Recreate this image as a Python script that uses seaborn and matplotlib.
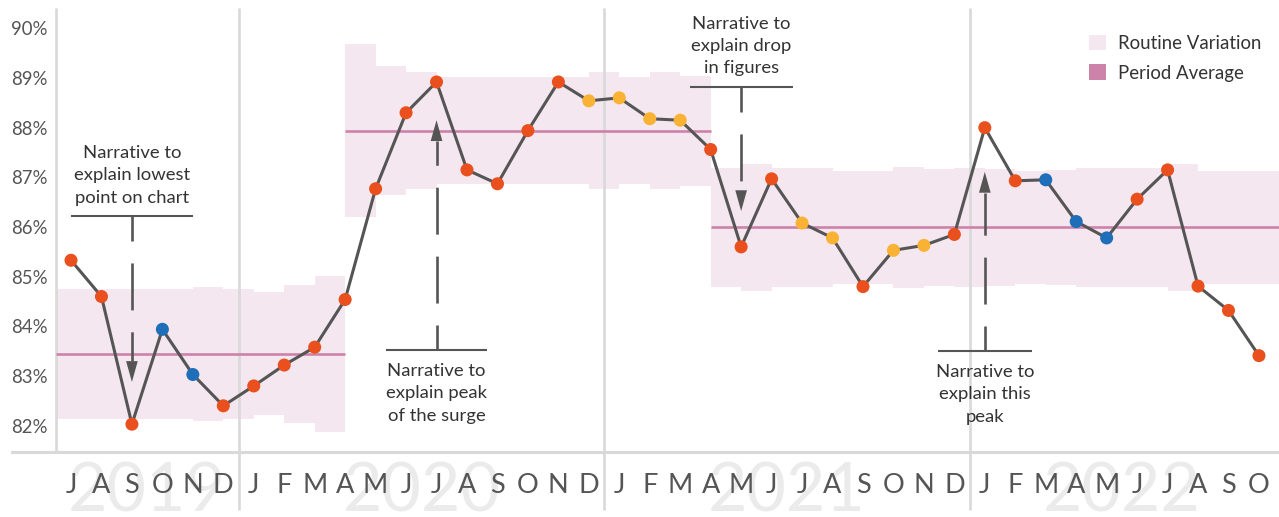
import numpy as np
import pandas as pd
import matplotlib
matplotlib.use("Agg")
import matplotlib.pyplot as plt
from matplotlib.patches import Patch
import seaborn as sns

# ---------------- data ----------------
months = ['J', 'A', 'S', 'O', 'N', 'D',
          'J', 'F', 'M', 'A', 'M', 'J', 'J', 'A', 'S', 'O', 'N', 'D',
          'J', 'F', 'M', 'A', 'M', 'J', 'J', 'A', 'S', 'O', 'N', 'D',
          'J', 'F', 'M', 'A', 'M', 'J', 'J', 'A', 'S', 'O']
years = [2019] * 6 + [2020] * 12 + [2021] * 12 + [2022] * 10

values = [85.33, 84.60, 82.03, 83.94, 83.03, 82.40, 82.80, 83.22, 83.58, 84.54,
          86.77, 88.30, 88.92, 87.15, 86.87, 87.94, 88.92, 88.54, 88.60, 88.18,
          88.15, 87.56, 85.60, 86.97, 86.08, 85.78, 84.80, 85.53, 85.63, 85.85,
          88.00, 86.93, 86.95, 86.11, 85.78, 86.56, 87.15, 84.81, 84.32, 83.41]

status = ['signal', 'signal', 'signal', 'low run', 'low run', 'signal',
          'signal', 'signal', 'signal', 'signal', 'signal', 'signal', 'signal',
          'signal', 'signal', 'signal', 'signal', 'high run',
          'high run', 'high run', 'high run', 'signal', 'signal', 'signal',
          'high run', 'high run', 'signal', 'high run', 'high run', 'signal',
          'signal', 'signal', 'low run', 'low run', 'low run', 'signal',
          'signal', 'signal', 'signal', 'signal']

period = [1] * 10 + [2] * 12 + [3] * 18
period_avg = [83.45, 87.94, 85.99]
band_halfwidth = [1.31, 1.31, 1.31, 1.31, 1.31, 1.35, 1.31, 1.24, 1.39, 1.57,
                  1.74, 1.30, 1.18, 1.08, 1.08, 1.08, 1.08, 1.08, 1.18, 1.08,
                  1.18, 1.11, 1.19, 1.27, 1.19, 1.19, 1.13, 1.13, 1.22, 1.17,
                  1.19, 1.17, 1.13, 1.15, 1.19, 1.19, 1.19, 1.27, 1.13, 1.13]

yticks = [82, 83, 84, 85, 86, 87, 88, 89, 90]

notes = [
    dict(idx=2, lines=["Narrative to", "explain lowest", "point on chart"],
         rule=86.22, tip=82.88, half=2.0, side='above'),
    dict(idx=12, lines=["Narrative to", "explain peak", "of the surge"],
         rule=83.53, tip=88.15, half=1.67, side='below'),
    dict(idx=22, lines=["Narrative to", "explain drop", "in figures"],
         rule=88.82, tip=86.32, half=1.69, side='above'),
    dict(idx=30, lines=["Narrative to", "explain this", "peak"],
         rule=83.51, tip=87.11, half=1.54, side='below'),
]

# ---------------- style ----------------
sns.set_style("white")
plt.rcParams['font.family'] = ['Lato', 'DejaVu Sans']
plt.rcParams['lines.scale_dashes'] = False

red = '#e9501e'
blue = '#1f6eb9'
amber = '#f9b234'
palette = {'signal': red, 'low run': blue, 'high run': amber}
band_color = '#f5e7ef'
avg_color = '#cd82aa'
grey_line = '#555555'
divider = '#d9d9d9'
text_dark = '#333333'
tick_grey = '#555555'

W, H = 1279, 517
fig = plt.figure(figsize=(W / 100, H / 100), dpi=100)
ax_left, ax_right, ax_top, ax_bottom = 12, 1279, 8, 452
ax = fig.add_axes([ax_left / W, (H - ax_bottom) / H,
                   (ax_right - ax_left) / W, (ax_bottom - ax_top) / H])

n = len(values)
df = pd.DataFrame({'idx': np.arange(n), 'value': values, 'status': status,
                   'month': months, 'year': years, 'period': period})

xmin, xmax = -1.937, 39.658
ymin, ymax = 81.470, 90.409
ax.set_xlim(xmin, xmax)
ax.set_ylim(ymin, ymax)
px_per_unit = (ax_bottom - ax_top) / (ymax - ymin)

# routine variation band (step, each month owns the interval ending at it)
avg_per_month = np.array([period_avg[p - 1] for p in period])
hw = np.array(band_halfwidth)
lo = avg_per_month - hw
hi = avg_per_month + hw
x_edges = np.concatenate([[-0.5], df['idx'].values, [xmax]])
lo_e = np.concatenate([[lo[0]], lo, [lo[-1]]])
hi_e = np.concatenate([[hi[0]], hi, [hi[-1]]])
ax.fill_between(x_edges, lo_e, hi_e, step='pre', color=band_color,
                linewidth=0, zorder=1)

# year dividers
year_list = sorted(set(years))
first_idx = [years.index(y) for y in year_list]
below = -(510 - ax_bottom) / (ax_bottom - ax_top)
for k, fi in enumerate(first_idx):
    xpos = fi - 0.5
    y0 = 0 if k == 0 else below
    ax.plot([xpos, xpos], [y0, 1], transform=ax.get_xaxis_transform(),
            color=divider, lw=1.9, zorder=1.5, clip_on=False,
            solid_capstyle='butt')

# period averages
for p_i, avg in enumerate(period_avg, start=1):
    ids = df.loc[df['period'] == p_i, 'idx']
    start = -0.5 if p_i == 1 else ids.min() - 1
    end = xmax if p_i == len(period_avg) else ids.max()
    ax.hlines(avg, start, end, color=avg_color, lw=1.9, zorder=2)

# data line + points
sns.lineplot(data=df, x='idx', y='value', color=grey_line, lw=2.2,
             estimator=None, sort=False, ax=ax, zorder=3)
sns.scatterplot(data=df, x='idx', y='value', hue='status', palette=palette,
                s=88, linewidth=0, legend=False, ax=ax, zorder=4)

# annotations
line_gap = 22.3  # px
for nt in notes:
    i = nt['idx']
    ax.plot([i - nt['half'], i + nt['half']], [nt['rule'], nt['rule']],
            color=grey_line, lw=1.5, zorder=2.6, solid_capstyle='butt')
    sign = 1 if nt['tip'] > nt['rule'] else -1
    head_px = 21
    base = nt['tip'] - sign * head_px / px_per_unit
    ax.plot([i, i], [nt['rule'], base], color=grey_line, lw=1.9,
            linestyle=(15.8, (33.8, 15.8)), dash_capstyle='butt', zorder=2.6)
    ax.annotate('', xy=(i, nt['tip']), xytext=(0, -sign * head_px * 0.72),
                textcoords='offset points',
                arrowprops=dict(arrowstyle='-|>,head_length=1.5,head_width=0.42',
                                color=grey_line, lw=0, shrinkA=0, shrinkB=0,
                                mutation_scale=10), zorder=2.6)
    nl = len(nt['lines'])
    for k, txt in enumerate(nt['lines']):
        if nt['side'] == 'above':
            off_px = 13.5 + (nl - 1 - k) * line_gap
        else:
            off_px = -(26.5 + k * line_gap)
        ax.annotate(txt, xy=(i, nt['rule']), xytext=(0, off_px * 0.72),
                    textcoords='offset points', ha='center', va='baseline',
                    fontsize=13.3, color=text_dark, zorder=5)

# axes styling
for s in ['left', 'top', 'right']:
    ax.spines[s].set_visible(False)
ax.spines['bottom'].set_color(divider)
ax.spines['bottom'].set_linewidth(2.2)
ax.set_xlabel('')
ax.set_ylabel('')
ax.grid(False)

ax.set_yticks(yticks)
ax.set_yticklabels([f'{v}%' for v in yticks])
ax.tick_params(axis='y', length=0, pad=-25.9, labelsize=13.4, labelcolor=tick_grey)

ax.set_xticks(df['idx'].values)
ax.set_xticklabels(months)
ax.tick_params(axis='x', length=0, pad=29.3, labelsize=19.5, labelcolor=tick_grey)
for lbl in ax.get_xticklabels():
    lbl.set_verticalalignment('baseline')

# big year labels behind the month letters
year_base = -(511.7 - ax_bottom) / (ax_bottom - ax_top)
for y in year_list:
    centre = df.loc[df['year'] == y, 'idx'].mean()
    ax.text(centre, year_base, str(y), transform=ax.get_xaxis_transform(),
            ha='center', va='baseline', fontsize=49, fontweight='normal',
            color='#ebebeb', zorder=0.1, clip_on=False)

# legend
handles = [Patch(facecolor=band_color, edgecolor='none', label='Routine Variation'),
           Patch(facecolor=avg_color, edgecolor='none', label='Period Average')]
leg = ax.legend(handles=handles, loc='upper left',
                bbox_to_anchor=(1089 / W, 1 - 35 / H),
                bbox_transform=fig.transFigure, frameon=False,
                fontsize=13.4, handlelength=0.9, handleheight=0.9,
                handletextpad=0.65, labelspacing=0.66, borderpad=0,
                borderaxespad=0)
for t in leg.get_texts():
    t.set_color(text_dark)

fig.savefig('out.png', dpi=100)
